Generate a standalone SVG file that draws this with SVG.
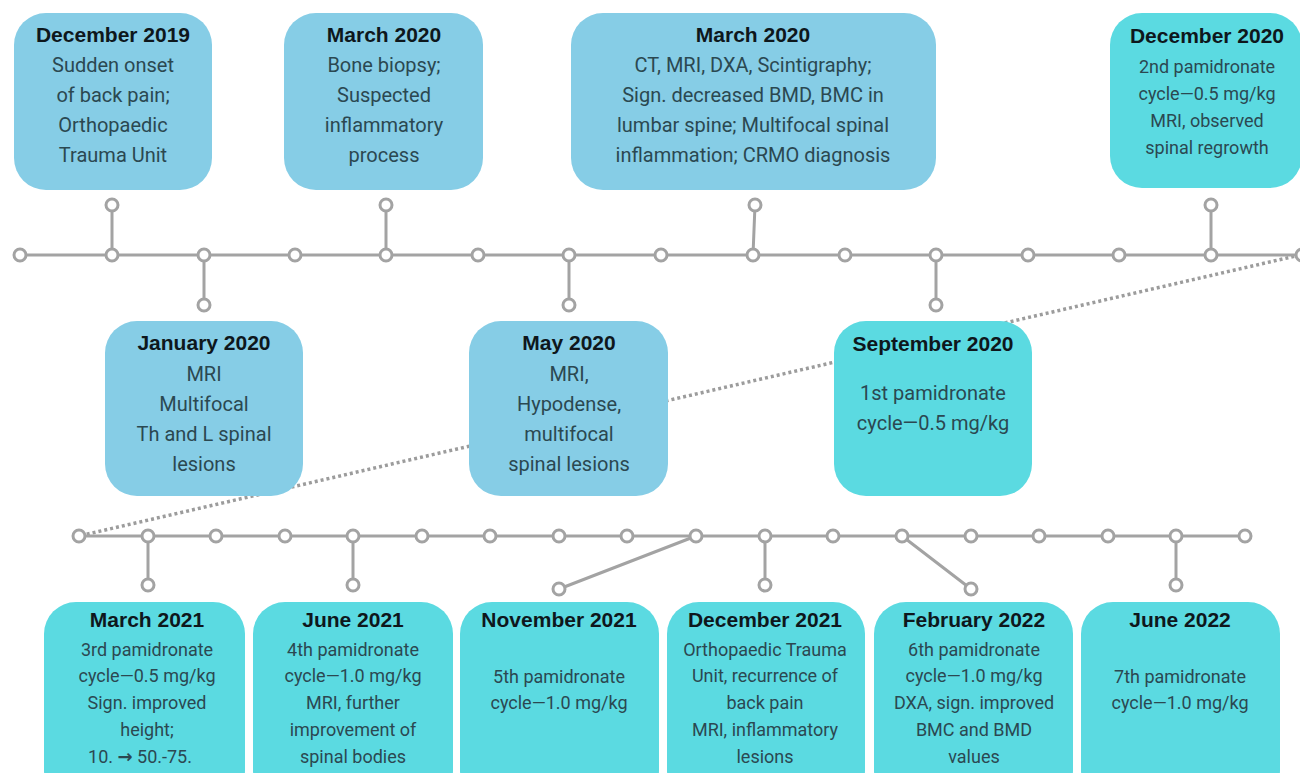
<svg xmlns="http://www.w3.org/2000/svg" width="1300" height="773" viewBox="0 0 1300 773">
  <style>
    .bg { fill: #ffffff; }
    .blue { fill: #86cde6; }
    .cyan { fill: #5bdae1; }
    .line { stroke: #a3a3a3; stroke-width: 3; fill: none; stroke-linecap: round; }
    .dots { stroke: #9c9c9c; stroke-width: 3.5; fill: none; stroke-dasharray: 3 3; }
    .knot { fill: #ffffff; stroke: #a3a3a3; stroke-width: 3; }
    .title { font-family: "Liberation Sans", Arial, sans-serif; font-weight: bold; font-size: 21px; fill: #0e171c; text-anchor: middle; }
    .body { font-family: Roboto, "Liberation Sans", sans-serif; font-size: 20px; fill: #2b4851; text-anchor: middle; }
    .small { font-size: 18px; }
    .arrow { font-family: "DejaVu Sans", sans-serif; font-weight: bold; font-size: 18px; }
  </style>

  <rect class="bg" x="0" y="0" width="1300" height="773"/>

  <!-- connectors: two timelines, stems and the dotted wrap-around -->
  <g id="connectors">
    <line class="dots" x1="1300" y1="255" x2="79" y2="536"/>

    <line class="line" x1="20" y1="255" x2="1300" y2="255"/>
    <line class="line" x1="112" y1="255" x2="112" y2="205"/>
    <line class="line" x1="386" y1="255" x2="386" y2="205"/>
    <line class="line" x1="753" y1="255" x2="755" y2="205"/>
    <line class="line" x1="1211" y1="255" x2="1211" y2="205"/>
    <line class="line" x1="204" y1="255" x2="204" y2="305"/>
    <line class="line" x1="569" y1="255" x2="569" y2="305"/>
    <line class="line" x1="936" y1="255" x2="936" y2="305"/>

    <line class="line" x1="79" y1="536" x2="1245" y2="536"/>
    <line class="line" x1="148" y1="536" x2="148" y2="585"/>
    <line class="line" x1="353" y1="536" x2="353" y2="585"/>
    <line class="line" x1="696" y1="536" x2="559" y2="589"/>
    <line class="line" x1="765" y1="536" x2="765" y2="585"/>
    <line class="line" x1="902" y1="536" x2="971" y2="589"/>
    <line class="line" x1="1176" y1="536" x2="1176" y2="585"/>

    <!-- knots on the upper timeline -->
    <circle class="knot" cx="20" cy="255" r="6"/>
    <circle class="knot" cx="112" cy="255" r="6"/>
    <circle class="knot" cx="204" cy="255" r="6"/>
    <circle class="knot" cx="295" cy="255" r="6"/>
    <circle class="knot" cx="386" cy="255" r="6"/>
    <circle class="knot" cx="478" cy="255" r="6"/>
    <circle class="knot" cx="569" cy="255" r="6"/>
    <circle class="knot" cx="661" cy="255" r="6"/>
    <circle class="knot" cx="753" cy="255" r="6"/>
    <circle class="knot" cx="845" cy="255" r="6"/>
    <circle class="knot" cx="936" cy="255" r="6"/>
    <circle class="knot" cx="1028" cy="255" r="6"/>
    <circle class="knot" cx="1119" cy="255" r="6"/>
    <circle class="knot" cx="1211" cy="255" r="6"/>
    <circle class="knot" cx="1302" cy="255" r="6"/>
    <circle class="knot" cx="112" cy="205" r="6"/>
    <circle class="knot" cx="386" cy="205" r="6"/>
    <circle class="knot" cx="755" cy="205" r="6"/>
    <circle class="knot" cx="1211" cy="205" r="6"/>
    <circle class="knot" cx="204" cy="305" r="6"/>
    <circle class="knot" cx="569" cy="305" r="6"/>
    <circle class="knot" cx="936" cy="305" r="6"/>

    <!-- knots on the lower timeline -->
    <circle class="knot" cx="79" cy="536" r="6"/>
    <circle class="knot" cx="148" cy="536" r="6"/>
    <circle class="knot" cx="216" cy="536" r="6"/>
    <circle class="knot" cx="285" cy="536" r="6"/>
    <circle class="knot" cx="353" cy="536" r="6"/>
    <circle class="knot" cx="422" cy="536" r="6"/>
    <circle class="knot" cx="490" cy="536" r="6"/>
    <circle class="knot" cx="559" cy="536" r="6"/>
    <circle class="knot" cx="627" cy="536" r="6"/>
    <circle class="knot" cx="696" cy="536" r="6"/>
    <circle class="knot" cx="765" cy="536" r="6"/>
    <circle class="knot" cx="833" cy="536" r="6"/>
    <circle class="knot" cx="902" cy="536" r="6"/>
    <circle class="knot" cx="971" cy="536" r="6"/>
    <circle class="knot" cx="1039" cy="536" r="6"/>
    <circle class="knot" cx="1108" cy="536" r="6"/>
    <circle class="knot" cx="1176" cy="536" r="6"/>
    <circle class="knot" cx="1245" cy="536" r="6"/>
    <circle class="knot" cx="148" cy="585" r="6"/>
    <circle class="knot" cx="353" cy="585" r="6"/>
    <circle class="knot" cx="559" cy="589" r="6"/>
    <circle class="knot" cx="765" cy="585" r="6"/>
    <circle class="knot" cx="971" cy="589" r="6"/>
    <circle class="knot" cx="1176" cy="585" r="6"/>
  </g>

  <!-- upper row -->
  <g id="dec-2019">
    <rect class="blue" x="14" y="13" width="198" height="177" rx="32"/>
    <text class="title" x="113" y="42">December 2019</text>
    <text class="body" x="113" y="72">Sudden onset</text>
    <text class="body" x="113" y="102">of back pain;</text>
    <text class="body" x="113" y="132">Orthopaedic</text>
    <text class="body" x="113" y="162">Trauma Unit</text>
  </g>

  <g id="mar-2020-biopsy">
    <rect class="blue" x="284" y="13" width="199" height="177" rx="32"/>
    <text class="title" x="384" y="42">March 2020</text>
    <text class="body" x="384" y="72">Bone biopsy;</text>
    <text class="body" x="384" y="102">Suspected</text>
    <text class="body" x="384" y="132">inflammatory</text>
    <text class="body" x="384" y="162">process</text>
  </g>

  <g id="mar-2020-imaging">
    <rect class="blue" x="571" y="13" width="365" height="177" rx="32"/>
    <text class="title" x="753" y="42">March 2020</text>
    <text class="body" x="753" y="72">CT, MRI, DXA, Scintigraphy;</text>
    <text class="body" x="753" y="102">Sign. decreased BMD, BMC in</text>
    <text class="body" x="753" y="132">lumbar spine; Multifocal spinal</text>
    <text class="body" x="753" y="162">inflammation; CRMO diagnosis</text>
  </g>

  <g id="dec-2020">
    <rect class="cyan" x="1110" y="13" width="192" height="175" rx="32"/>
    <text class="title" x="1207" y="43">December 2020</text>
    <text class="body small" x="1207" y="73">2nd pamidronate</text>
    <text class="body small" x="1207" y="100">cycle—0.5 mg/kg</text>
    <text class="body small" x="1207" y="127">MRI, observed</text>
    <text class="body small" x="1207" y="154">spinal regrowth</text>
  </g>

  <!-- middle row -->
  <g id="jan-2020">
    <rect class="blue" x="105" y="321" width="198" height="175" rx="32"/>
    <text class="title" x="204" y="350">January 2020</text>
    <text class="body" x="204" y="381">MRI</text>
    <text class="body" x="204" y="411">Multifocal</text>
    <text class="body" x="204" y="441">Th and L spinal</text>
    <text class="body" x="204" y="471">lesions</text>
  </g>

  <g id="may-2020">
    <rect class="blue" x="469" y="321" width="199" height="175" rx="32"/>
    <text class="title" x="569" y="350">May 2020</text>
    <text class="body" x="569" y="381">MRI,</text>
    <text class="body" x="569" y="411">Hypodense,</text>
    <text class="body" x="569" y="441">multifocal</text>
    <text class="body" x="569" y="471">spinal lesions</text>
  </g>

  <g id="sep-2020">
    <rect class="cyan" x="834" y="321" width="198" height="175" rx="32"/>
    <text class="title" x="933" y="351">September 2020</text>
    <text class="body" x="933" y="400">1st pamidronate</text>
    <text class="body" x="933" y="430">cycle—0.5 mg/kg</text>
  </g>

  <!-- lower row -->
  <g id="mar-2021">
    <rect class="cyan" x="44" y="602" width="201" height="200" rx="32"/>
    <text class="title" x="147" y="627">March 2021</text>
    <text class="body small" x="147" y="656">3rd pamidronate</text>
    <text class="body small" x="147" y="682">cycle—0.5 mg/kg</text>
    <text class="body small" x="147" y="709">Sign. improved</text>
    <text class="body small" x="147" y="736">height;</text>
    <text class="body small" x="140" y="763">10. <tspan class="arrow">→</tspan> 50.-75.</text>
  </g>

  <g id="jun-2021">
    <rect class="cyan" x="253" y="602" width="200" height="200" rx="32"/>
    <text class="title" x="353" y="627">June 2021</text>
    <text class="body small" x="353" y="656">4th pamidronate</text>
    <text class="body small" x="353" y="682">cycle—1.0 mg/kg</text>
    <text class="body small" x="353" y="709">MRI, further</text>
    <text class="body small" x="353" y="736">improvement of</text>
    <text class="body small" x="353" y="763">spinal bodies</text>
  </g>

  <g id="nov-2021">
    <rect class="cyan" x="460" y="602" width="199" height="200" rx="32"/>
    <text class="title" x="559" y="627">November 2021</text>
    <text class="body small" x="559" y="683">5th pamidronate</text>
    <text class="body small" x="559" y="709">cycle—1.0 mg/kg</text>
  </g>

  <g id="dec-2021">
    <rect class="cyan" x="667" y="602" width="198" height="200" rx="32"/>
    <text class="title" x="765" y="627">December 2021</text>
    <text class="body small" x="765" y="656">Orthopaedic Trauma</text>
    <text class="body small" x="765" y="682">Unit, recurrence of</text>
    <text class="body small" x="765" y="709">back pain</text>
    <text class="body small" x="765" y="736">MRI, inflammatory</text>
    <text class="body small" x="765" y="763">lesions</text>
  </g>

  <g id="feb-2022">
    <rect class="cyan" x="874" y="602" width="199" height="200" rx="32"/>
    <text class="title" x="974" y="627">February 2022</text>
    <text class="body small" x="974" y="656">6th pamidronate</text>
    <text class="body small" x="974" y="682">cycle—1.0 mg/kg</text>
    <text class="body small" x="974" y="709">DXA, sign. improved</text>
    <text class="body small" x="974" y="736">BMC and BMD</text>
    <text class="body small" x="974" y="763">values</text>
  </g>

  <g id="jun-2022">
    <rect class="cyan" x="1081" y="602" width="199" height="200" rx="32"/>
    <text class="title" x="1180" y="627">June 2022</text>
    <text class="body small" x="1180" y="683">7th pamidronate</text>
    <text class="body small" x="1180" y="709">cycle—1.0 mg/kg</text>
  </g>
</svg>
